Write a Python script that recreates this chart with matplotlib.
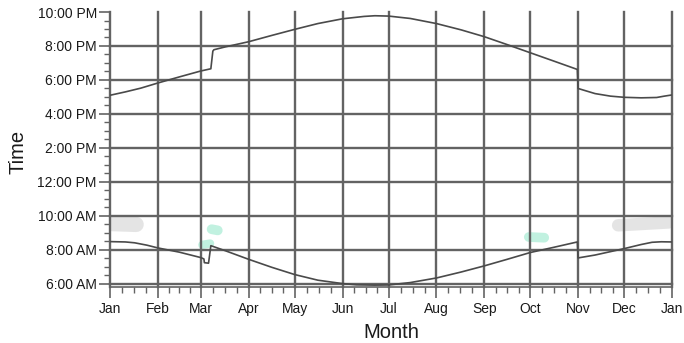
import numpy as np
import matplotlib.pyplot as plt

plt.rcParams['font.family'] = ['Liberation Sans', 'DejaVu Sans']

# month positions as day of year
months = ['Jan', 'Feb', 'Mar', 'Apr', 'May', 'Jun', 'Jul', 'Aug', 'Sep', 'Oct', 'Nov', 'Dec', 'Jan']
month_start = [0, 31, 59, 90, 120, 151, 181, 212, 243, 273, 304, 334, 365]

hour_ticks = [6, 8, 10, 12, 14, 16, 18, 20, 22]
hour_labels = ['6:00 AM', '8:00 AM', '10:00 AM', '12:00 PM', '2:00 PM',
               '4:00 PM', '6:00 PM', '8:00 PM', '10:00 PM']

# sunset (hours)
sunset_day = [0, 10, 20, 31, 45, 59, 65.5, 66.3, 66.8, 67.5, 75, 90, 105, 120, 135,
              151, 165, 172, 181, 195, 212, 228, 243, 258, 273, 288, 303.5, 304,
              315, 325, 334, 345, 355, 360, 365]
sunset_hour = [17.10, 17.30, 17.52, 17.82, 18.18, 18.53, 18.66, 19.30, 19.70, 19.78,
               19.95, 20.25, 20.62, 20.98, 21.32, 21.60, 21.74, 21.78, 21.76, 21.62,
               21.32, 20.95, 20.55, 20.08, 19.60, 19.12, 18.62, 17.50, 17.20, 17.05,
               16.98, 16.95, 16.97, 17.05, 17.12]

# sunrise (hours)
sunrise_day = [0, 10, 16, 24, 31, 45, 59, 61, 61.3, 64, 65.5, 75, 90, 105, 120, 135,
               151, 160, 172, 181, 195, 212, 228, 243, 258, 273, 288, 303.5, 304,
               315, 325, 334, 345, 352, 358, 365]
sunrise_hour = [8.49, 8.47, 8.42, 8.28, 8.12, 7.87, 7.55, 7.47, 7.25, 7.22, 8.25,
                7.95, 7.45, 6.98, 6.55, 6.22, 6.02, 5.95, 5.93, 5.94, 6.08, 6.35,
                6.70, 7.06, 7.45, 7.85, 8.15, 8.47, 7.53, 7.70, 7.90, 8.08, 8.32,
                8.45, 8.48, 8.47]

# faint smudges visible in the picture: (start day, end day, start hour, end hour)
smudge_x = [(1, 17), (330, 363), (60, 65), (66, 70), (272, 282)]
smudge_y = [(9.55, 9.5), (9.45, 9.62), (8.3, 8.38), (9.22, 9.15), (8.76, 8.72)]
smudge_col = ['#cfcfcf', '#cfcfcf', '#8fe6c8', '#8fe6c8', '#8fe6c8']
smudge_w = [11, 9, 6, 7, 7]

grid_col = '#636363'
line_col = '#4a4a4a'

fig = plt.figure(figsize=(6.84, 3.43), dpi=100)
ax = fig.add_axes([0.1608, 0.1633, 0.8217, 0.8017])

for xs, ys, c, w in zip(smudge_x, smudge_y, smudge_col, smudge_w):
    ax.plot(xs, ys, color=c, lw=w, alpha=0.55, solid_capstyle='round', zorder=1)

for h in hour_ticks[:-1]:
    ax.axhline(h, color=grid_col, lw=1.7, zorder=2, clip_on=False)
for d in month_start:
    ax.axvline(d, color=grid_col, lw=1.7, zorder=2, clip_on=False)

ax.plot(sunset_day, sunset_hour, color=line_col, lw=1.2, zorder=3)
ax.plot(sunrise_day, sunrise_hour, color=line_col, lw=1.2, zorder=3)

ax.set_xlim(0, 365)
ax.set_ylim(5.82, 22)

ax.set_xticks(month_start)
ax.set_xticklabels(months)
minor_x = []
for a, b in zip(month_start[:-1], month_start[1:]):
    minor_x += list(np.linspace(a, b, 5)[1:-1])
ax.set_xticks(minor_x, minor=True)

ax.set_yticks(hour_ticks)
ax.set_yticklabels(hour_labels)
ax.set_yticks(np.arange(6, 22.01, 0.5), minor=True)

ax.tick_params(which='major', length=8, width=1.2, color=grid_col,
               labelsize=10, labelcolor='#1a1a1a')
ax.tick_params(which='minor', length=4.5, width=1.0, color=grid_col)
ax.tick_params(axis='y', which='major', pad=1.5)
ax.tick_params(axis='x', which='major', pad=3)

for s in ['top', 'right']:
    ax.spines[s].set_visible(False)
for s in ['left', 'bottom']:
    ax.spines[s].set_color(grid_col)
    ax.spines[s].set_linewidth(1.2)

ax.set_xlabel('Month', fontsize=14.5, color='#1a1a1a', va='center')
ax.xaxis.set_label_coords(0.5, -0.165)
ax.set_ylabel('Time', fontsize=14.5, color='#1a1a1a', va='center',
              rotation_mode='default')
ax.yaxis.set_label_coords(-0.164, 0.49)

fig.savefig('out.png', dpi=100)
